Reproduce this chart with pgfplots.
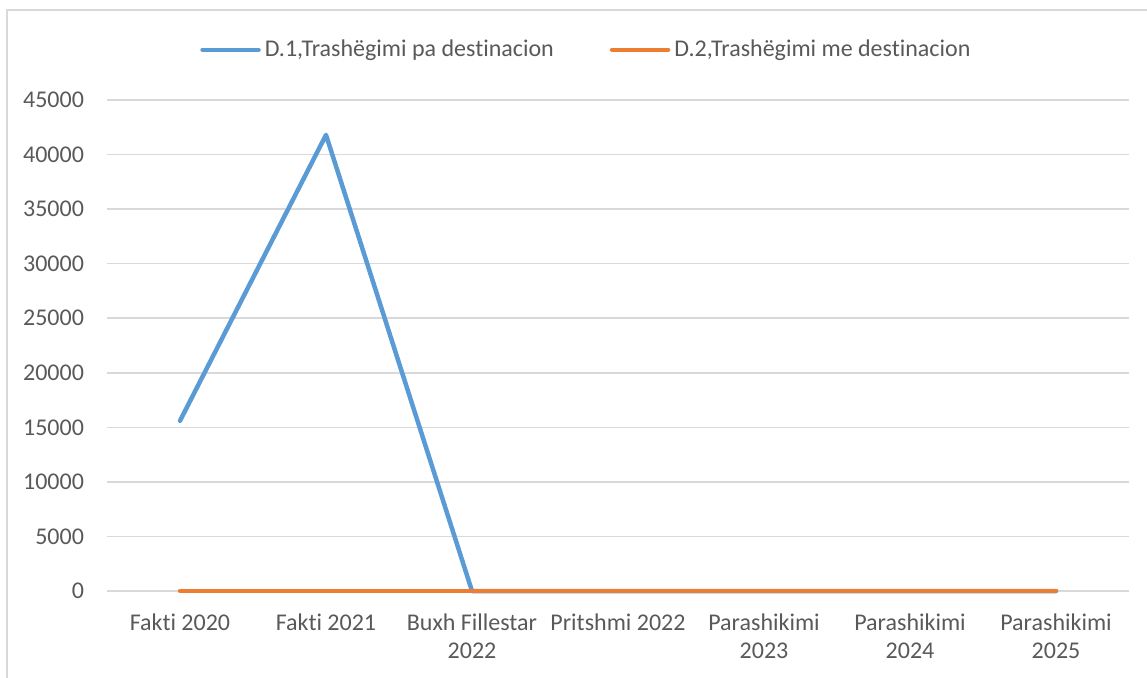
\documentclass[border=0pt]{standalone}
\usepackage{pgfplots}
\pgfplotsset{compat=1.18}
\usepackage{fontspec}
\setmainfont{Carlito}[Ligatures={NoCommon}]
\definecolor{gridgray}{HTML}{D9D9D9}
\definecolor{txtgray}{HTML}{595959}
\definecolor{s1}{HTML}{5B9BD5}
\definecolor{s2}{HTML}{ED7D31}
\begin{document}
\begin{tikzpicture}[x=0.5pt,y=0.5pt]
\useasboundingbox (0,0) rectangle (1147,677);
% chart frame (right and bottom edges fall outside the image)
\draw[gridgray, line width=1pt] (7,-20) -- (7,667) -- (1170,667);
\begin{axis}[
    at={(90pt,43pt)}, anchor=origin,
    scale only axis,
    width=511pt, height=245.5pt,
    xmin=-0.5, xmax=6.5,
    ymin=0, ymax=45000,
    xtick={0,...,6},
    xticklabels={Fakti 2020, Fakti 2021, Buxh Fillestar\\2022, Pritshmi 2022,
                 Parashikimi\\2023, Parashikimi\\2024, Parashikimi\\2025},
    xticklabel style={align=center, text=txtgray, font=\fontsize{12}{14}\selectfont, yshift=-8pt},
    ytick={0,5000,...,45000},
    yticklabel style={text=txtgray, font=\fontsize{12}{14}\selectfont, xshift=-8pt},
    /pgf/number format/assume math mode=true,
    scaled y ticks=false,
    yticklabel={\pgfmathprintnumber[fixed, 1000 sep={}]{\tick}},
    ymajorgrids,
    grid style={gridgray, line width=0.75pt},
    axis line style={draw=none},
    major tick length=0pt,
    legend columns=2,
    legend style={at={(0.47,1)}, anchor=south, yshift=16pt, draw=none,
        font=\fontsize{12}{14}\selectfont, text=txtgray,
        /tikz/every even column/.append style={column sep=26pt}},
    legend image code/.code={\draw[#1, line cap=round] (0pt,0pt) -- (28pt,0pt);},
    clip=false,
]
\addplot[s1, line width=2.25pt, line cap=round, line join=round] coordinates {
    (0,15600) (1,41800) (2,0) (3,0) (4,0) (5,0) (6,0)
};
\addlegendentry{D.1,Trashëgimi pa destinacion}
\addplot[s2, line width=2.25pt, line cap=round, line join=round] coordinates {
    (0,0) (1,0) (2,0) (3,0) (4,0) (5,0) (6,0)
};
\addlegendentry{D.2,Trashëgimi me destinacion}
\end{axis}
\end{tikzpicture}
\end{document}
